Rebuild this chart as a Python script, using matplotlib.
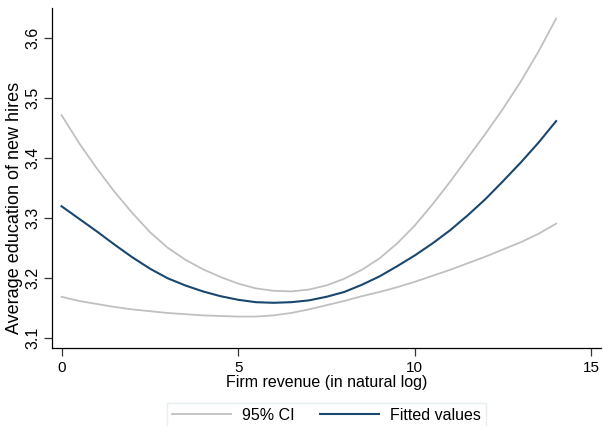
import numpy as np
import matplotlib
matplotlib.use("Agg")
import matplotlib.pyplot as plt

plt.rcParams['font.family'] = ['Liberation Sans', 'DejaVu Sans']

# Firm revenue (log) grid and the fitted curve with its 95% confidence band
revenue = [0, 0.5, 1, 1.5, 2, 2.5, 3, 3.5, 4, 4.5, 5, 5.5, 6, 6.5, 7,
           7.5, 8, 8.5, 9, 9.5, 10, 10.5, 11, 11.5, 12, 12.5, 13, 13.5, 14]
fitted = [3.319, 3.298, 3.277, 3.255, 3.234, 3.215, 3.199, 3.187, 3.177,
          3.169, 3.163, 3.159, 3.158, 3.159, 3.162, 3.168, 3.176, 3.188,
          3.202, 3.219, 3.237, 3.257, 3.279, 3.304, 3.331, 3.361, 3.392,
          3.425, 3.461]
ci_upper = [3.471, 3.424, 3.382, 3.343, 3.308, 3.276, 3.250, 3.230, 3.214,
            3.201, 3.190, 3.182, 3.178, 3.177, 3.180, 3.187, 3.198, 3.213,
            3.232, 3.257, 3.287, 3.322, 3.360, 3.400, 3.440, 3.482, 3.527,
            3.577, 3.632]
ci_lower = [3.168, 3.161, 3.156, 3.151, 3.147, 3.144, 3.141, 3.139, 3.137,
            3.136, 3.135, 3.135, 3.137, 3.141, 3.147, 3.154, 3.161, 3.169,
            3.176, 3.184, 3.193, 3.203, 3.213, 3.224, 3.235, 3.247, 3.259,
            3.273, 3.290]

x_ticks = [0, 5, 10, 15]
y_ticks = [3.1, 3.2, 3.3, 3.4, 3.5, 3.6]

W, H = 603, 426
fig = plt.figure(figsize=(W / 100, H / 100), dpi=100)
fig.patch.set_facecolor('white')

left, right, top, bottom = 52, 601, 8, 348
ax = fig.add_axes([left / W, 1 - bottom / H, (right - left) / W, (bottom - top) / H])

ci_color = '#c0c0c0'
fit_color = '#1a476f'

ax.plot(revenue, ci_upper, color=ci_color, lw=1.3, label='95% CI')
ax.plot(revenue, ci_lower, color=ci_color, lw=1.3)
ax.plot(revenue, fitted, color=fit_color, lw=1.5, label='Fitted values')

ax.set_xlim(-0.27, 15.27)
ax.set_ylim(3.0826, 3.6496)
ax.set_xticks(x_ticks)
ax.set_yticks(y_ticks)
ax.set_xticklabels([str(t) for t in x_ticks], fontsize=11)
ax.set_yticklabels([f'{t:.1f}' for t in y_ticks], fontsize=11.5,
                   rotation=90, va='center')

for side in ('top', 'right'):
    ax.spines[side].set_visible(False)
for side in ('left', 'bottom'):
    ax.spines[side].set_color('black')
    ax.spines[side].set_linewidth(0.9)

ax.tick_params(axis='both', direction='out', length=6, width=0.9,
               color='#333333', labelcolor='black')
ax.tick_params(axis='x', pad=3)
ax.tick_params(axis='y', pad=2.5)

ax.set_xlabel('Firm revenue (in natural log)', fontsize=11.5, labelpad=0)
ax.set_ylabel('Average education of new hires', fontsize=13,
              va='center', ha='center')
ax.yaxis.set_label_coords((15 - left) / (right - left),
                          (bottom - 208) / (bottom - top))

handles, labels = ax.get_legend_handles_labels()
leg = fig.legend(handles, labels, loc='center', ncol=2,
                 bbox_to_anchor=(326.5 / W, 1 - 415.5 / H),
                 fontsize=11.5, frameon=True, fancybox=False,
                 handlelength=3.7, handletextpad=0.7, columnspacing=1.6,
                 borderpad=0.3, borderaxespad=0)
leg.get_frame().set_edgecolor('#e4eaee')
leg.get_frame().set_linewidth(1.0)

fig.savefig('out.png', dpi=100, facecolor='white')
